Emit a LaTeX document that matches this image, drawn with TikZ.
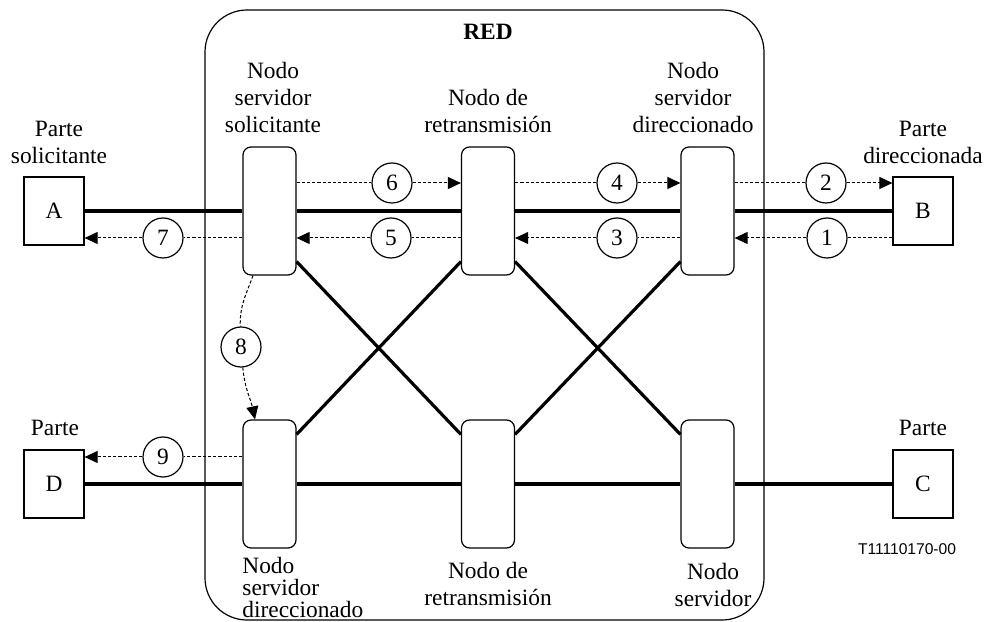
\documentclass[tikz,border=0pt]{standalone}
\usepackage{fontspec}
\setmainfont{Liberation Serif}
\setsansfont{Liberation Sans}
\usetikzlibrary{arrows.meta}

\tikzset{
    party/.style={draw, line width=0.6pt, minimum width=30pt, minimum height=34pt, inner sep=0pt},
    server/.style={draw, line width=0.6pt, rounded corners=4pt, minimum width=26.5pt, minimum height=64pt, inner sep=0pt},
    stepnum/.style={draw, circle, line width=0.6pt, minimum size=20pt, inner sep=0pt},
    link/.style={line width=2pt},
    cross/.style={line width=1.6pt},
    msg/.style={line width=0.5pt, dash pattern=on 1.6pt off 1pt},
    msgarrow/.style={msg, -{Triangle[length=6.5pt,width=6pt]}},
}

\begin{document}
\begin{tikzpicture}[x=0.5pt, y=0.5pt, font=\fontsize{11.7}{13.5}\selectfont]
    \useasboundingbox (0,0) rectangle (984,621);

    \draw[line width=0.6pt, rounded corners=21pt] (205,1) rectangle (764,611);
    \node[font=\fontsize{11.7}{13.5}\selectfont\bfseries] (red) at (488,589) {RED};

    \node[party] (A) at (54,410) {A};
    \node[party] (B) at (923,410) {B};
    \node[party] (D) at (54,137) {D};
    \node[party] (C) at (923,137) {C};

    \node[server] (ss) at (269.5,410) {};
    \node[server] (rt) at (488,410) {};
    \node[server] (sd) at (707.5,410) {};
    \node[server] (bd) at (269.5,137) {};
    \node[server] (br) at (488,137) {};
    \node[server] (bs) at (707.5,137) {};

    \draw[link] (A) -- (ss) -- (rt) -- (sd) -- (B);
    \draw[link] (D) -- (bd) -- (br) -- (bs) -- (C);

    \draw[cross] ([yshift=7pt]ss.south east) -- ([yshift=-7.5pt]br.north west);
    \draw[cross] ([yshift=7pt]rt.south west) -- ([yshift=-7.5pt]bd.north east);
    \draw[cross] ([yshift=7pt]rt.south east) -- ([yshift=-7.5pt]bs.north west);
    \draw[cross] ([yshift=7pt]sd.south west) -- ([yshift=-7.5pt]br.north east);

    \foreach \k/\x/\y/\from/\to in {6/392/438/ss.east/rt.west, 4/617/438/rt.east/sd.west,
        2/826/438/sd.east/B.west, 1/827/383/B.west/sd.east, 3/617/383/sd.west/rt.east,
        5/391/383/rt.west/ss.east, 7/163/383/ss.west/A.east, 9/163/164/bd.west/D.east}
    {
        \node[stepnum] (n\k) at (\x,\y) {\k};
        \draw[msg] (\from |- n\k) -- (n\k);
        \draw[msgarrow] (n\k) -- (\to |- n\k);
    }

    \node[stepnum] (n8) at (241,274) {8};
    \draw[msg] ([xshift=-8.25pt]ss.south) to[out=250, in=92] (n8);
    \draw[msgarrow] (n8) to[out=-85, in=102] ([xshift=-7.25pt]bd.north);

    \node[align=center] (ssl) at (273,523) {Nodo\\servidor\\solicitante};
    \node[align=center] (rtl) at (488,509.5) {Nodo de\\retransmisión};
    \node[align=center] (sdl) at (693,523) {Nodo\\servidor\\direccionado};
    \node[align=center] (Al) at (59,478.5) {Parte\\solicitante};
    \node[align=center] (Bl) at (923,478.5) {Parte\\direccionada};
    \node (Dl) at (55,193) {Parte};
    \node (Cl) at (923,193) {Parte};

    \node[align=left, anchor=west, inner sep=0pt, font=\fontsize{11.7}{11}\selectfont] (bdl) at (242,34) {Nodo\\servidor\\direccionado};
    \node[align=center] (brl) at (488,37.5) {Nodo de\\retransmisión};
    \node[align=center] (bsl) at (713,36.5) {Nodo\\servidor};
    \node[font=\sffamily\fontsize{7.8}{9}\selectfont] (fig) at (907,72) {T11110170-00};
\end{tikzpicture}
\end{document}
